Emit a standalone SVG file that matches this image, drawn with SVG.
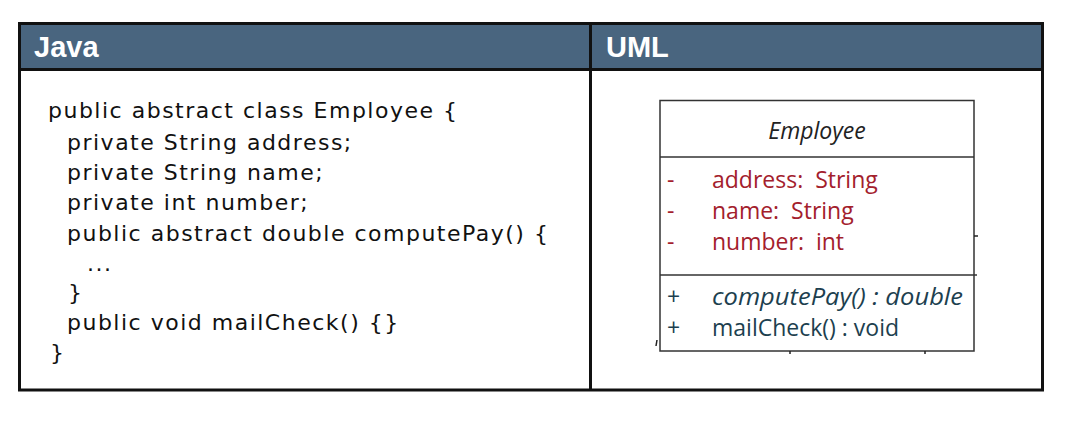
<svg xmlns="http://www.w3.org/2000/svg" width="1069" height="423" viewBox="0 0 1069 423">
<style>
.hdr{font-family:"Liberation Sans",Arial,sans-serif;font-weight:bold;font-size:29px;fill:#ffffff}
.code{font-family:"DejaVu Sans",Verdana,sans-serif;font-size:22px;letter-spacing:1.5px;fill:#111111}
.uml{font-family:"Open Sans","Noto Sans",sans-serif;font-size:23px;white-space:pre}
.attr{fill:#a3202c}
.meth{fill:#1d3f4f}
.frame{fill:none;stroke:#111111;stroke-width:3}
.box{fill:#ffffff;stroke:#333333;stroke-width:1.5}
</style>
<rect width="1069" height="423" fill="#ffffff"/>
<g id="table">
<rect x="19.5" y="23.5" width="1023" height="46" fill="#49657f"/>
<rect class="frame" x="19.5" y="23.5" width="1023" height="366.5"/>
<line class="frame" x1="19.5" y1="69.5" x2="1042.5" y2="69.5"/>
<line class="frame" x1="590.5" y1="23.5" x2="590.5" y2="390"/>
<text class="hdr" x="34" y="57">Java</text>
<text class="hdr" x="606" y="57">UML</text>
</g>
<g id="java-code" class="code">
<text x="48" y="118">public abstract class Employee {</text>
<text x="67" y="150">private String address;</text>
<text x="67" y="180">private String name;</text>
<text x="67" y="210">private int number;</text>
<text x="67" y="241">public abstract double computePay() {</text>
<text x="87" y="271">...</text>
<text x="68" y="300">}</text>
<text x="67" y="330">public void mailCheck() {}</text>
<text x="50" y="360">}</text>
</g>
<g id="uml-class">
<rect class="box" x="660" y="100.5" width="314" height="250.5"/>
<line class="box" x1="660" y1="157" x2="974" y2="157"/>
<line class="box" x1="660" y1="275" x2="977" y2="275"/>
<text class="uml" x="817" y="139" text-anchor="middle" font-style="italic" font-size="24" fill="#222222">Employee</text>
<g class="uml attr">
<text x="667" y="188">-</text><text x="712" y="188" xml:space="preserve">address:  String</text>
<text x="667" y="219">-</text><text x="712" y="219" xml:space="preserve">name:  String</text>
<text x="667" y="250">-</text><text x="712" y="250" xml:space="preserve">number:  int</text>
</g>
<g class="uml meth">
<text x="667" y="305">+</text><text x="712" y="305" font-style="italic" textLength="251" lengthAdjust="spacingAndGlyphs">computePay() : double</text>
<text x="667" y="336">+</text><text x="712" y="336">mailCheck() : void</text>
</g>
<g stroke="#222222" stroke-width="1.5">
<line x1="974" y1="236" x2="978" y2="236"/>
<line x1="657" y1="340" x2="656" y2="346"/>
<line x1="790" y1="351" x2="790" y2="354"/>
<line x1="925" y1="351" x2="925" y2="354"/>
</g>
</g>
</svg>
